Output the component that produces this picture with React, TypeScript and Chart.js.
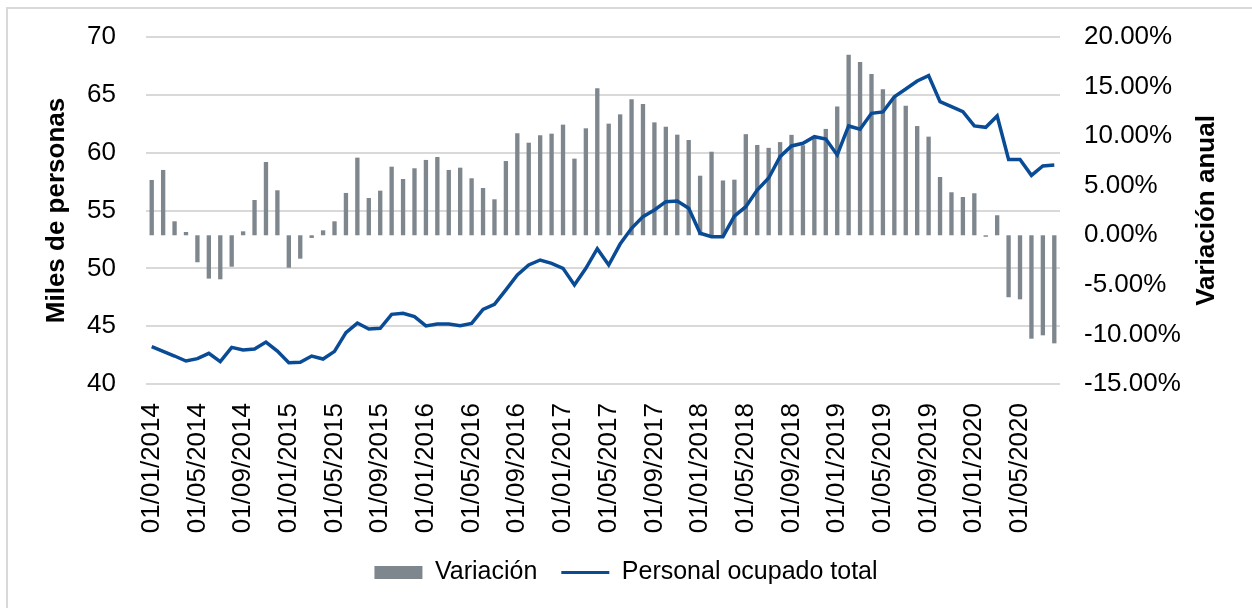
import React, { useEffect, useRef } from "react";
import { Chart, registerables } from "chart.js";

Chart.register(...registerables);

const FONT = "'Liberation Sans', Arial, Helvetica, sans-serif";
const BAR_COLOR = "#7f878e";
const LINE_COLOR = "#0a4b96";

const categories = [
  "01/01/2014", "01/02/2014", "01/03/2014", "01/04/2014", "01/05/2014", "01/06/2014",
  "01/07/2014", "01/08/2014", "01/09/2014", "01/10/2014", "01/11/2014", "01/12/2014",
  "01/01/2015", "01/02/2015", "01/03/2015", "01/04/2015", "01/05/2015", "01/06/2015",
  "01/07/2015", "01/08/2015", "01/09/2015", "01/10/2015", "01/11/2015", "01/12/2015",
  "01/01/2016", "01/02/2016", "01/03/2016", "01/04/2016", "01/05/2016", "01/06/2016",
  "01/07/2016", "01/08/2016", "01/09/2016", "01/10/2016", "01/11/2016", "01/12/2016",
  "01/01/2017", "01/02/2017", "01/03/2017", "01/04/2017", "01/05/2017", "01/06/2017",
  "01/07/2017", "01/08/2017", "01/09/2017", "01/10/2017", "01/11/2017", "01/12/2017",
  "01/01/2018", "01/02/2018", "01/03/2018", "01/04/2018", "01/05/2018", "01/06/2018",
  "01/07/2018", "01/08/2018", "01/09/2018", "01/10/2018", "01/11/2018", "01/12/2018",
  "01/01/2019", "01/02/2019", "01/03/2019", "01/04/2019", "01/05/2019", "01/06/2019",
  "01/07/2019", "01/08/2019", "01/09/2019", "01/10/2019", "01/11/2019", "01/12/2019",
  "01/01/2020", "01/02/2020", "01/03/2020", "01/04/2020", "01/05/2020", "01/06/2020",
  "01/07/2020", "01/08/2020",
];

// Variación anual (%), right axis
const variacion = [
  5.58, 6.59, 1.41, 0.33, -2.72, -4.37, -4.44, -3.17, 0.4, 3.56, 7.39, 4.54,
  -3.27, -2.36, -0.27, 0.5, 1.41, 4.27, 7.83, 3.76, 4.5, 6.92, 5.68, 6.76,
  7.6, 7.9, 6.59, 6.82, 5.75, 4.77, 3.63, 7.49, 10.29, 9.34, 10.09, 10.25,
  11.16, 7.73, 10.79, 14.83, 11.26, 12.2, 13.71, 13.24, 11.39, 10.95, 10.15, 9.61,
  6.01, 8.43, 5.53, 5.61, 10.2, 9.11, 8.82, 9.4, 10.13, 9.08, 9.85, 10.73,
  12.99, 18.2, 17.48, 16.28, 14.73, 13.98, 13.07, 11.02, 9.95, 5.88, 4.34, 3.86,
  4.24, -0.15, 2.02, -6.25, -6.46, -10.43, -10.09, -10.9,
];

// Personal ocupado total (miles de personas), left axis
const personal = [
  43.23, 42.82, 42.42, 41.99, 42.19, 42.65, 41.93, 43.17, 42.94, 43.03, 43.63, 42.85,
  41.84, 41.88, 42.42, 42.16, 42.82, 44.44, 45.27, 44.76, 44.81, 46.02, 46.11, 45.82,
  45.02, 45.19, 45.19, 45.04, 45.24, 46.45, 46.89, 48.13, 49.42, 50.29, 50.72, 50.43,
  50.0, 48.56, 50.0, 51.7, 50.29, 52.1, 53.46, 54.47, 55.04, 55.76, 55.82, 55.19,
  53.03, 52.74, 52.74, 54.52, 55.33, 56.77, 57.81, 59.66, 60.58, 60.81, 61.38, 61.18,
  59.8, 62.31, 62.02, 63.4, 63.52, 64.84, 65.5, 66.2, 66.66, 64.41, 63.98, 63.54,
  62.31, 62.19, 63.17, 59.42, 59.42, 58.04, 58.85, 58.93,
];

const leftTitle = "Miles de personas";
const rightTitle = "Variación anual";
const barLabel = "Variación";
const lineLabel = "Personal ocupado total";

const rightTitlePlugin = {
  id: "rightTitle",
  afterDraw(chart: any) {
    const s = chart.scales.y1;
    const { ctx, chartArea } = chart;
    ctx.save();
    ctx.translate(s.right - 45, (chartArea.top + chartArea.bottom) / 2);
    ctx.rotate(-Math.PI / 2);
    ctx.font = `bold 26px ${FONT}`;
    ctx.fillStyle = "#000";
    ctx.textAlign = "center";
    ctx.textBaseline = "middle";
    ctx.fillText(rightTitle, 0, 0);
    ctx.restore();
  },
};

export default function App() {
  const ref = useRef<HTMLCanvasElement | null>(null);

  useEffect(() => {
    if (!ref.current) return;
    const chart = new Chart(ref.current, {
      type: "bar",
      data: {
        labels: categories,
        datasets: [
          {
            type: "bar",
            label: barLabel,
            data: variacion,
            backgroundColor: BAR_COLOR,
            borderWidth: 0,
            yAxisID: "y1",
            categoryPercentage: 1,
            barPercentage: 0.38,
            order: 2,
          },
          {
            type: "line",
            label: lineLabel,
            data: personal,
            borderColor: LINE_COLOR,
            backgroundColor: LINE_COLOR,
            borderWidth: 3.5,
            pointRadius: 0,
            tension: 0,
            yAxisID: "y",
            order: 1,
          },
        ] as any,
      },
      options: {
        responsive: false,
        animation: false,
        devicePixelRatio: 1,
        layout: { padding: { top: 37, left: 0, right: 0, bottom: 13 } },
        plugins: {
          tooltip: { enabled: false },
          title: { display: false },
          legend: {
            display: true,
            position: "bottom",
            labels: {
              usePointStyle: true,
              pointStyleWidth: 48,
              boxHeight: 13,
              padding: 24,
              color: "#000",
              font: { family: FONT, size: 25 },
              generateLabels: () => [
                {
                  text: barLabel,
                  fillStyle: BAR_COLOR,
                  strokeStyle: BAR_COLOR,
                  lineWidth: 0,
                  pointStyle: "rect",
                  hidden: false,
                  datasetIndex: 0,
                },
                {
                  text: lineLabel,
                  fillStyle: LINE_COLOR,
                  strokeStyle: LINE_COLOR,
                  lineWidth: 3,
                  pointStyle: "line",
                  hidden: false,
                  datasetIndex: 1,
                },
              ],
            },
          },
        },
        scales: {
          x: {
            type: "category",
            offset: true,
            grid: { display: false },
            border: { display: false },
            ticks: {
              autoSkip: false,
              minRotation: 90,
              maxRotation: 90,
              padding: 11,
              color: "#000",
              font: { family: FONT, size: 26 },
              callback: (_v: any, idx: number) => (idx % 4 === 0 ? categories[idx] : ""),
            },
            afterFit: (s: any) => {
              s.height = 152;
            },
          },
          y: {
            type: "linear",
            position: "left",
            min: 40,
            max: 70,
            ticks: {
              stepSize: 5,
              padding: 30,
              color: "#000",
              font: { family: FONT, size: 26 },
            },
            grid: { color: "#d9d9d9", lineWidth: 2, drawTicks: false },
            border: { display: false },
            title: {
              display: true,
              text: leftTitle,
              color: "#000",
              font: { family: FONT, size: 26, weight: "bold" },
              padding: { top: 41, bottom: 0 },
            },
            afterFit: (s: any) => {
              s.width = 146;
              s.paddingTop = 0;
              s.paddingBottom = 0;
            },
          },
          y1: {
            type: "linear",
            position: "right",
            min: -15,
            max: 20,
            ticks: {
              stepSize: 5,
              padding: 24,
              color: "#000",
              font: { family: FONT, size: 26 },
              callback: (v: any) => Number(v).toFixed(2) + "%",
            },
            grid: { display: false, drawTicks: false },
            border: { display: false },
            afterFit: (s: any) => {
              s.width = 192;
              s.paddingTop = 0;
              s.paddingBottom = 0;
            },
          },
        },
      } as any,
      plugins: [rightTitlePlugin],
    });
    return () => chart.destroy();
  }, []);

  return (
    <div style={{ position: "fixed", left: 0, top: 0, width: 1252, height: 608, background: "#fff" }}>
      <div
        style={{
          position: "absolute",
          left: 6,
          top: 7,
          width: 1252,
          height: 608,
          borderTop: "2px solid #d9d9d9",
          borderLeft: "2px solid #d9d9d9",
        }}
      />
      <canvas
        ref={ref}
        width={1252}
        height={608}
        style={{ position: "absolute", left: 0, top: 0, width: 1252, height: 608 }}
      />
    </div>
  );
}
